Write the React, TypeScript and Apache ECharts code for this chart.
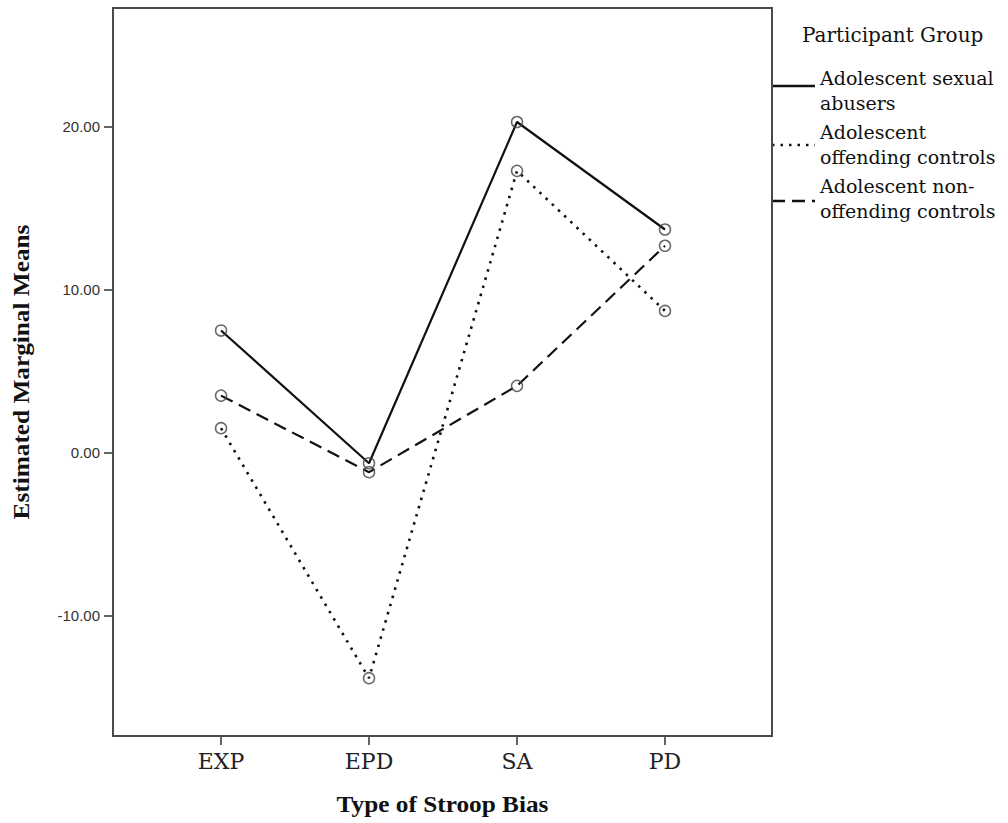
import React, { useEffect, useRef } from "react";
import * as echarts from "echarts";

const categories = ["EXP", "EPD", "SA", "PD"];
const yTicks = [-10, 0, 10, 20];
const sexualAbusers = [7.5, -0.65, 20.3, 13.7];
const offendingControls = [1.5, -13.85, 17.3, 8.7];
const nonOffendingControls = [3.5, -1.2, 4.1, 12.7];
const legendTitle = "Participant Group";
const seriesNames = [
  "Adolescent sexual abusers",
  "Adolescent offending controls",
  "Adolescent non-offending controls",
];
const legendLabels = [
  ["Adolescent sexual", "abusers"],
  ["Adolescent", "offending controls"],
  ["Adolescent non-", "offending controls"],
];
const xTitle = "Type of Stroop Bias";
const yTitle = "Estimated Marginal Means";

const SERIF = "'DejaVu Serif', serif";
const BOLD = "bold 23px 'Liberation Serif', 'Times New Roman', serif";
const dashes: (number[] | null)[] = [null, [2.5, 6], [13, 7]];

const G = { left: 113, top: 8, right: 772, bottom: 736 };

export default function App() {
  const ref = useRef<HTMLDivElement>(null);
  useEffect(() => {
    if (!ref.current) return;
    const chart = echarts.init(ref.current, null, { renderer: "svg" });
    const datasets = [sexualAbusers, offendingControls, nonOffendingControls];
    const series: any[] = [];
    datasets.forEach((d, i) => {
      series.push({
        name: seriesNames[i],
        type: "line",
        data: d.map((v, j) => [j + 1, v]),
        showSymbol: false,
        symbol: "none",
        lineStyle: {
          color: "#111",
          width: i === 1 ? 2.6 : 2.2,
          type: dashes[i] ? dashes[i] : "solid",
        },
        z: 3,
      });
      series.push({
        name: seriesNames[i],
        type: "scatter",
        data: d.map((v, j) => [j + 1, v]),
        symbol: "circle",
        symbolSize: 11,
        itemStyle: {
          color: "rgba(255,255,255,0)",
          borderColor: "#444",
          borderWidth: 1.5,
        },
        z: 4,
      });
    });
    const els: any[] = [
      {
        type: "rect",
        shape: {
          x: G.left,
          y: G.top,
          width: G.right - G.left,
          height: G.bottom - G.top,
        },
        style: { fill: "none", stroke: "#4a4a4a", lineWidth: 2 },
        z: 10,
        silent: true,
      },
      {
        type: "text",
        left: 802,
        top: 25,
        style: { text: legendTitle, font: `20px ${SERIF}`, fill: "#111" },
      },
    ];
    const lineY = [86, 145, 201];
    const textY = [65, 119.5, 173];
    legendLabels.forEach((lbl, i) => {
      els.push({
        type: "line",
        shape: { x1: G.right, y1: lineY[i], x2: 815, y2: lineY[i] },
        style: {
          stroke: "#111",
          lineWidth: i === 1 ? 2.6 : 2.4,
          lineDash: dashes[i] ? dashes[i] : null,
        },
      });
      els.push({
        type: "text",
        left: 820,
        top: textY[i],
        style: {
          text: lbl.join("\n"),
          font: `19px ${SERIF}`,
          lineHeight: 25,
          fill: "#111",
        },
      });
    });
    els.push({
      type: "text",
      x: (G.left + G.right) / 2,
      y: 804,
      scaleX: 1.1,
      style: {
        text: xTitle,
        font: BOLD,
        fill: "#111",
        align: "center",
        verticalAlign: "middle",
      },
    });
    els.push({
      type: "text",
      x: 21,
      y: (G.top + G.bottom) / 2,
      rotation: Math.PI / 2,
      scaleX: 1.1,
      style: {
        text: yTitle,
        font: BOLD,
        fill: "#111",
        align: "center",
        verticalAlign: "middle",
      },
    });
    chart.setOption({
      animation: false,
      backgroundColor: "#fff",
      grid: {
        left: G.left,
        right: 1008 - G.right,
        top: G.top,
        bottom: 823 - G.bottom,
        show: false,
      },
      xAxis: {
        type: "value",
        min: 0.27,
        max: 4.723,
        splitLine: { show: false },
        axisLine: { show: false, onZero: false },
        axisTick: {
          show: true,
          length: 9,
          customValues: [1, 2, 3, 4],
          lineStyle: { color: "#333", width: 1.5 },
        },
        axisLabel: {
          customValues: [1, 2, 3, 4],
          formatter: (v: number) => categories[Math.round(v) - 1] ?? "",
          fontFamily: "'DejaVu Serif', serif",
          fontSize: 22,
          color: "#222",
          margin: 14,
        },
      },
      yAxis: {
        type: "value",
        min: -17.4,
        max: 27.3,
        splitLine: { show: false },
        axisLine: { show: false, onZero: false },
        axisTick: {
          show: true,
          length: 9,
          customValues: yTicks,
          lineStyle: { color: "#333", width: 1.5 },
        },
        axisLabel: {
          customValues: yTicks,
          formatter: (v: number) => v.toFixed(2),
          fontFamily: "'Liberation Sans', Arial, sans-serif",
          fontSize: 15,
          color: "#333",
          margin: 13,
        },
      },
      graphic: els,
      series,
    });
    return () => chart.dispose();
  }, []);
  return (
    <div
      ref={ref}
      style={{ position: "absolute", left: 0, top: 0, width: 1008, height: 823 }}
    />
  );
}
